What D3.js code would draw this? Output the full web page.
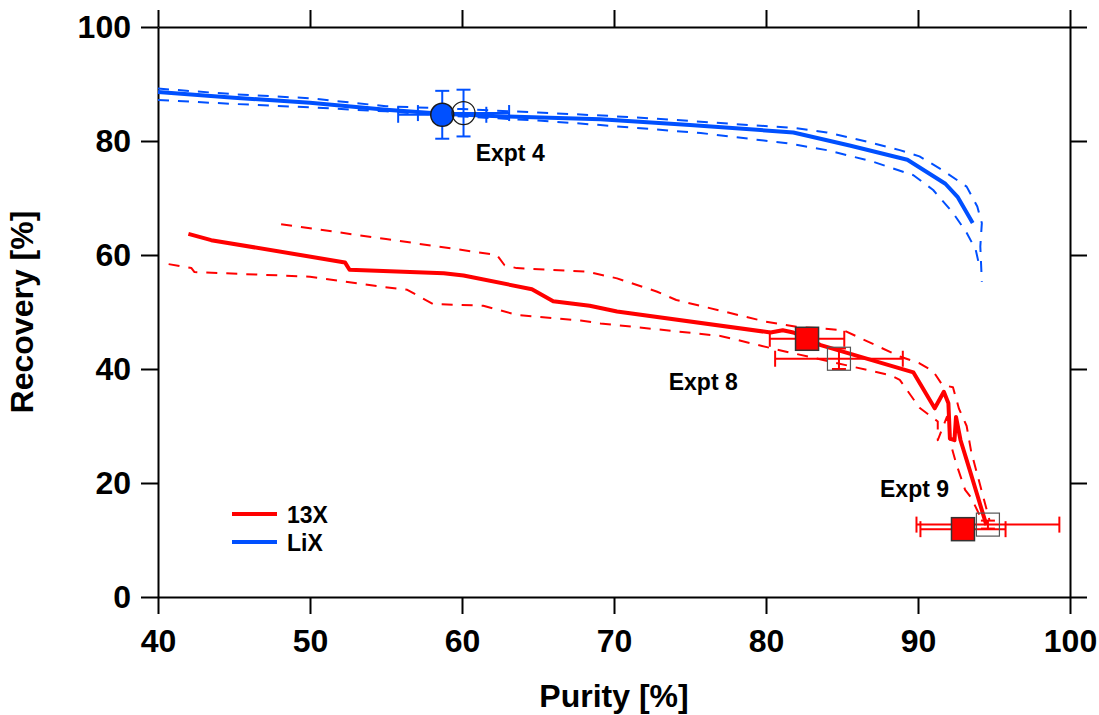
<!DOCTYPE html>
<html>
<head>
<meta charset="utf-8">
<script src="https://cdn.jsdelivr.net/npm/d3@7"></script>
<style>
  html, body { margin: 0; padding: 0; background: #fff; }
  svg { display: block; font-family: "Liberation Sans", Arial, Helvetica, sans-serif; }
</style>
</head>
<body>
<svg id="chart" width="1099" height="715"></svg>
<script>
// ---- axis ticks ----
const purityTicks = [40, 50, 60, 70, 80, 90, 100];
const recoveryTicks = [0, 20, 40, 60, 80, 100];

// ---- LiX: simulated purity/recovery front with its bounds ----
const lixMean = [[40, 88.6], [45, 87.6], [50, 86.7], [55, 85.5], [58.7, 84.8], [62, 84.4],
  [69.1, 83.8], [75, 82.8], [81.8, 81.5], [85.5, 79.2], [89.3, 76.7], [91.8, 72.5],
  [92.6, 70.2], [93.6, 65.6]];
const lixUpper = [[40, 89.2], [45, 88.2], [50, 87.5], [55, 86.1], [60, 85.6], [65, 85.0],
  [69.7, 84.4], [74, 83.7], [77.8, 83.0], [81.8, 82.3], [84, 81.5], [86.6, 79.9],
  [88.8, 78.4], [90.1, 77.3], [91.6, 74.9], [93.2, 72.0], [93.9, 68.5], [94.2, 65.6],
  [94.1, 61.5], [94.2, 55.3]];
const lixLower = [[40, 87.2], [45, 86.5], [50, 85.9], [55, 85.2], [60, 84.3], [65, 83.6],
  [69.1, 82.8], [75.7, 81.4], [81.4, 79.6], [84, 78.4], [87.0, 76.4], [89.7, 74.0],
  [91.0, 71.4], [92.3, 67.4], [93.2, 63.9], [93.8, 60.9], [94.0, 58.5]];

// ---- 13X: simulated purity/recovery front with its bounds ----
const x13Mean = [[42.0, 63.7], [43.5, 62.6], [52.3, 58.7], [52.6, 57.4], [58.8, 56.8],
  [60.1, 56.4], [64.6, 54.0], [66.0, 51.9], [68.4, 51.1], [70.2, 50.1], [80.3, 46.4],
  [81.1, 46.8], [81.8, 46.4], [83.6, 44.2], [89.7, 39.4], [91.1, 33.1], [91.7, 36.0],
  [92.0, 34.0], [92.1, 27.8], [92.4, 27.5], [92.5, 31.6], [92.8, 27.5], [93.4, 22.3],
  [93.9, 17.9], [94.5, 12.6]];
const x13Upper = [[48.1, 65.4], [55, 62.8], [62.3, 60.0], [62.8, 58.2], [63.6, 57.7],
  [68.2, 57.1], [70.2, 55.9], [72.8, 53.6], [74.1, 52.1], [80.0, 48.3], [82.0, 47.4],
  [83.8, 47.1], [85.1, 46.8], [88.8, 42.2], [90.1, 41.0], [91.0, 39.6], [91.6, 37.2],
  [92.3, 36.8], [92.7, 33.0], [93.2, 30.0], [93.5, 25.5], [93.9, 21.5], [94.3, 17.5],
  [94.7, 13.5]];
const x13Lower = [[40.7, 58.4], [42.2, 57.7], [42.4, 57.0], [50.0, 56.2], [54.8, 54.4],
  [56.4, 53.9], [56.8, 53.3], [58.1, 51.4], [61.4, 51.1], [63.6, 49.5], [67.8, 48.5],
  [69.1, 48.0], [77.0, 45.8], [78.1, 45.1], [80.9, 43.3], [88.2, 38.9], [88.8, 38.1],
  [90.1, 33.2], [91.3, 30.8], [91.3, 27.5], [91.9, 31.6], [92.2, 26.4], [92.5, 23.5],
  [93.1, 18.8], [93.5, 17.4], [94.1, 14.1]];

// ---- experiments (kind "expt") and matching model runs (kind "model") ----
// dx / dy: half-widths of the purity / recovery error bars
const lixRuns = [
  { purity: 58.7, recovery: 84.6, dx: 2.9, dy: 4.2, kind: "expt" },
  { purity: 60.1, recovery: 84.9, dx: 3.0, dy: 4.1, kind: "model" }
];
const x13Runs = [
  { purity: 82.7, recovery: 45.3, dx: 2.45, dy: 1.0, kind: "expt" },
  { purity: 84.8, recovery: 41.8, dx: 4.2, dy: 1.8, kind: "model" },
  { purity: 92.96, recovery: 11.9, dx: 2.8, dy: 0.8, kind: "expt" },
  { purity: 94.6, recovery: 12.7, dx: 4.7, dy: 0.7, kind: "model" }
];

// ---- run labels, anchored in data units ----
const runLabels = [
  { text: "Expt 4", purity: 60.9, recovery: 76.5 },
  { text: "Expt 8", purity: 73.6, recovery: 36.3 },
  { text: "Expt 9", purity: 87.5, recovery: 17.6 }
];

const legendItems = [
  { name: "13X", color: "#ff0000" },
  { name: "LiX", color: "#0050ff" }
];

const RED = "#ff0000";
const BLUE = "#0050ff";

const svg = d3.select("#chart");
const x = d3.scaleLinear().domain([40, 100]).range([158, 1070]);
const y = d3.scaleLinear().domain([0, 100]).range([597, 27]);

// ---- frame: four axes with outward ticks ----
const TICK = 17;
function styleAxis(g) {
  g.attr("font-family", '"Liberation Sans", Arial, Helvetica, sans-serif')
   .attr("font-size", 32).attr("font-weight", "bold");
  g.select(".domain").attr("stroke", "#000").attr("stroke-width", 2);
  g.selectAll(".tick line").attr("stroke", "#000").attr("stroke-width", 2);
  g.selectAll(".tick text").attr("fill", "#000");
}
svg.append("g").attr("transform", `translate(0,${y(0)})`)
  .call(d3.axisBottom(x).tickValues(purityTicks).tickSize(TICK).tickSizeOuter(0).tickPadding(15))
  .call(styleAxis);
svg.append("g").attr("transform", `translate(0,${y(100)})`)
  .call(d3.axisTop(x).tickValues(purityTicks).tickSize(TICK).tickSizeOuter(0).tickFormat(""))
  .call(styleAxis);
svg.append("g").attr("transform", `translate(${x(40)},0)`)
  .call(d3.axisLeft(y).tickValues(recoveryTicks).tickSize(TICK).tickSizeOuter(0).tickPadding(10))
  .call(styleAxis);
svg.append("g").attr("transform", `translate(${x(100)},0)`)
  .call(d3.axisRight(y).tickValues(recoveryTicks).tickSize(TICK).tickSizeOuter(0).tickFormat(""))
  .call(styleAxis);

// ---- axis titles ----
svg.append("text")
  .attr("x", (x(40) + x(100)) / 2).attr("y", 707)
  .attr("text-anchor", "middle").attr("font-size", 32).attr("font-weight", "bold")
  .text("Purity [%]");
svg.append("text")
  .attr("transform", `translate(33,${(y(0) + y(100)) / 2}) rotate(-90)`)
  .attr("text-anchor", "middle").attr("font-size", 32).attr("font-weight", "bold")
  .text("Recovery [%]");

// ---- curves ----
const line = d3.line().x(d => x(d[0])).y(d => y(d[1]));
const curves = svg.append("g").attr("fill", "none").attr("stroke-linejoin", "round");
function dashed(data, color) {
  curves.append("path").datum(data).attr("d", line)
    .attr("stroke", color).attr("stroke-width", 2).attr("stroke-dasharray", "11,9");
}
function solid(data, color) {
  curves.append("path").datum(data).attr("d", line)
    .attr("stroke", color).attr("stroke-width", 4);
}
dashed(lixUpper, BLUE); dashed(lixLower, BLUE);
dashed(x13Upper, RED); dashed(x13Lower, RED);
solid(lixMean, BLUE); solid(x13Mean, RED);

// ---- error bars ----
function errorBars(runs, color) {
  const g = svg.append("g").attr("stroke", color).attr("stroke-width", 2).attr("fill", "none");
  runs.forEach(r => {
    const cx = x(r.purity), cy = y(r.recovery);
    const x0 = x(r.purity - r.dx), x1 = x(r.purity + r.dx);
    const y0 = y(r.recovery - r.dy), y1 = y(r.recovery + r.dy);
    g.append("line").attr("x1", x0).attr("x2", x1).attr("y1", cy).attr("y2", cy);
    g.append("line").attr("x1", x0).attr("x2", x0).attr("y1", cy - 8).attr("y2", cy + 8);
    g.append("line").attr("x1", x1).attr("x2", x1).attr("y1", cy - 8).attr("y2", cy + 8);
    g.append("line").attr("x1", cx).attr("x2", cx).attr("y1", y0).attr("y2", y1);
    g.append("line").attr("x1", cx - 7).attr("x2", cx + 7).attr("y1", y0).attr("y2", y0);
    g.append("line").attr("x1", cx - 7).attr("x2", cx + 7).attr("y1", y1).attr("y2", y1);
  });
}
errorBars(lixRuns, BLUE);
errorBars(x13Runs, RED);

// ---- markers ----
svg.append("g").selectAll("circle").data(lixRuns).join("circle")
  .attr("cx", d => x(d.purity)).attr("cy", d => y(d.recovery)).attr("r", 11.5)
  .attr("fill", d => d.kind === "expt" ? BLUE : "none")
  .attr("stroke", "#1a1a1a").attr("stroke-width", d => d.kind === "expt" ? 1.5 : 1.2);
const SQ = 23;
svg.append("g").selectAll("rect").data(x13Runs).join("rect")
  .attr("x", d => x(d.purity) - SQ / 2).attr("y", d => y(d.recovery) - SQ / 2)
  .attr("width", SQ).attr("height", SQ)
  .attr("fill", d => d.kind === "expt" ? RED : "none")
  .attr("stroke", d => d.kind === "expt" ? "#333" : "#555")
  .attr("stroke-width", d => d.kind === "expt" ? 1.5 : 1.2);

// ---- run labels ----
svg.append("g").selectAll("text").data(runLabels).join("text")
  .attr("x", d => x(d.purity)).attr("y", d => y(d.recovery))
  .attr("font-size", 23).attr("font-weight", "bold").attr("fill", "#000")
  .text(d => d.text);

// ---- legend ----
const legend = svg.append("g").attr("transform", "translate(232,514)");
legend.selectAll("line").data(legendItems).join("line")
  .attr("x1", 0).attr("x2", 45).attr("y1", (d, i) => i * 28).attr("y2", (d, i) => i * 28)
  .attr("stroke", d => d.color).attr("stroke-width", 4);
legend.selectAll("text").data(legendItems).join("text")
  .attr("x", 55).attr("y", (d, i) => i * 28 + 8.5)
  .attr("font-size", 23).attr("font-weight", "bold").attr("fill", "#000")
  .text(d => d.name);
</script>
</body>
</html>
